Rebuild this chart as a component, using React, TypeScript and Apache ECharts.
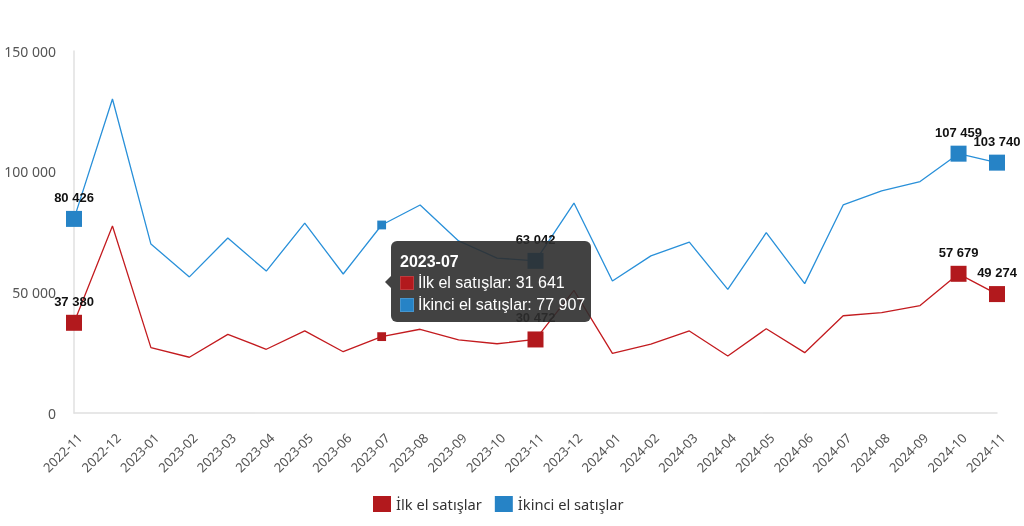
import React, { useEffect, useRef } from "react";
import * as echarts from "echarts";

const categories = [
  "2022-11", "2022-12", "2023-01", "2023-02", "2023-03", "2023-04", "2023-05",
  "2023-06", "2023-07", "2023-08", "2023-09", "2023-10", "2023-11", "2023-12",
  "2024-01", "2024-02", "2024-03", "2024-04", "2024-05", "2024-06", "2024-07",
  "2024-08", "2024-09", "2024-10", "2024-11",
];

const firstHand = [
  37380, 77500, 27100, 23100, 32600, 26400, 34000, 25400, 31641, 34700, 30300,
  28700, 30472, 50800, 24700, 28500, 34000, 23600, 34900, 25000, 40300, 41600,
  44500, 57679, 49274,
];

const secondHand = [
  80426, 130100, 70000, 56400, 72500, 58800, 78700, 57600, 77907, 86200, 71300,
  64200, 63042, 87000, 54700, 65100, 70800, 51200, 74700, 53600, 86200, 92000,
  95900, 107459, 103740,
];

const markedIndexes = [0, 12, 23, 24];
const tooltipIndex = 8;
const yTicks = [0, 50000, 100000, 150000];

const seriesNames = ["İlk el satışlar", "İkinci el satışlar"];
const colors = ["#b2191d", "#2683c6"];

const fmt = (n: number) =>
  String(Math.round(n)).replace(/\B(?=(\d{3})+(?!\d))/g, " ");

export default function App() {
  const ref = useRef<HTMLDivElement>(null);

  useEffect(() => {
    if (!ref.current) return;
    document.body.style.margin = "0";
    const chart = echarts.init(ref.current, undefined, { renderer: "svg" });
    const allData = [firstHand, secondHand];

    const makeSeries = (idx: number) => ({
      name: seriesNames[idx],
      type: "line",
      data: allData[idx],
      showSymbol: false,
      symbol: "rect",
      symbolSize: 8,
      lineStyle: { width: 1.3, color: colors[idx] },
      itemStyle: { color: colors[idx] },
      emphasis: { scale: 1.1, lineStyle: { width: 1.3 } },
      markPoint: {
        symbol: "rect",
        symbolSize: 16,
        itemStyle: { color: colors[idx] },
        label: {
          show: true,
          position: "top",
          distance: 7,
          color: "#111",
          fontWeight: "bold",
          fontSize: 13,
          fontFamily: "'Liberation Sans', Arial, sans-serif",
          formatter: (p: any) => fmt(p.value),
        },
        emphasis: { disabled: true },
        data: markedIndexes.map((i) => ({
          coord: [categories[i], allData[idx][i]],
          value: allData[idx][i],
        })),
      },
    });

    chart.setOption({
      animation: false,
      color: colors,
      grid: { left: 74, right: 27, top: 51, bottom: 113, containLabel: false },
      legend: {
        bottom: 9,
        left: 368,
        icon: "rect",
        itemWidth: 18,
        itemHeight: 16,
        itemGap: 13,
        textStyle: {
          fontSize: 14.7,
          color: "#333",
          fontFamily: "'Noto Sans', sans-serif",
        },
        data: seriesNames,
      },
      tooltip: {
        trigger: "axis",
        axisPointer: { type: "none" },
        backgroundColor: "rgba(45,45,45,0.9)",
        borderWidth: 0,
        padding: 0,
        extraCssText: "border-radius:6px; box-shadow:none;",
        position: () => [391, 241],
        formatter: (params: any) => {
          const list = Array.isArray(params) ? params : [params];
          const i = list[0].dataIndex;
          const rows = seriesNames
            .map(
              (name, k) =>
                `<div style="display:flex;align-items:center;height:22px;white-space:nowrap;">` +
                `<span style="flex:0 0 auto;display:inline-block;width:12px;height:12px;background:${colors[k]};border:1px solid rgba(255,255,255,0.15);margin-right:4px;"></span>` +
                `<span style="flex:0 0 auto;">${name}: ${fmt(allData[k][i])}</span></div>`
            )
            .join("");
          return (
            `<div style="position:relative;box-sizing:border-box;width:200px;height:81px;padding:0 0 0 9px;overflow:visible;font-family:'Liberation Sans',Arial,sans-serif;color:#fff;font-size:16px;line-height:20px;">` +
            `<div style="position:absolute;left:-6px;top:35px;width:0;height:0;border-top:6px solid transparent;border-bottom:6px solid transparent;border-right:6px solid rgba(45,45,45,0.9);"></div>` +
            `<div style="font-weight:bold;font-size:16px;height:20px;padding-top:11px;">${categories[i]}</div>` +
            rows +
            `</div>`
          );
        },
      },
      xAxis: {
        type: "category",
        data: categories,
        boundaryGap: false,
        axisLine: { show: true, lineStyle: { color: "#e0e0e0", width: 1.5 } },
        axisTick: { show: false },
        axisLabel: {
          rotate: 45,
          interval: 0,
          fontSize: 13,
          color: "#555",
          margin: 28,
          padding: [0, -8, 0, 0],
          fontFamily: "'Noto Sans', sans-serif",
        },
      },
      yAxis: {
        type: "value",
        min: yTicks[0],
        max: yTicks[yTicks.length - 1],
        interval: yTicks[1] - yTicks[0],
        axisLine: { show: true, lineStyle: { color: "#e0e0e0", width: 1.5 } },
        axisTick: { show: false },
        splitLine: { show: false },
        axisLabel: {
          fontSize: 14,
          color: "#555",
          margin: 18,
          fontFamily: "'Noto Sans', sans-serif",
          formatter: (v: number) => fmt(v),
        },
      },
      series: [makeSeries(0), makeSeries(1)],
    });

    chart.dispatchAction({
      type: "showTip",
      seriesIndex: 0,
      dataIndex: tooltipIndex,
    });

    return () => chart.dispose();
  }, []);

  return (
    <div style={{ position: "fixed", left: 0, top: 0, width: 1024, height: 526 }}>
      <div ref={ref} style={{ width: 1024, height: 526 }} />
    </div>
  );
}
